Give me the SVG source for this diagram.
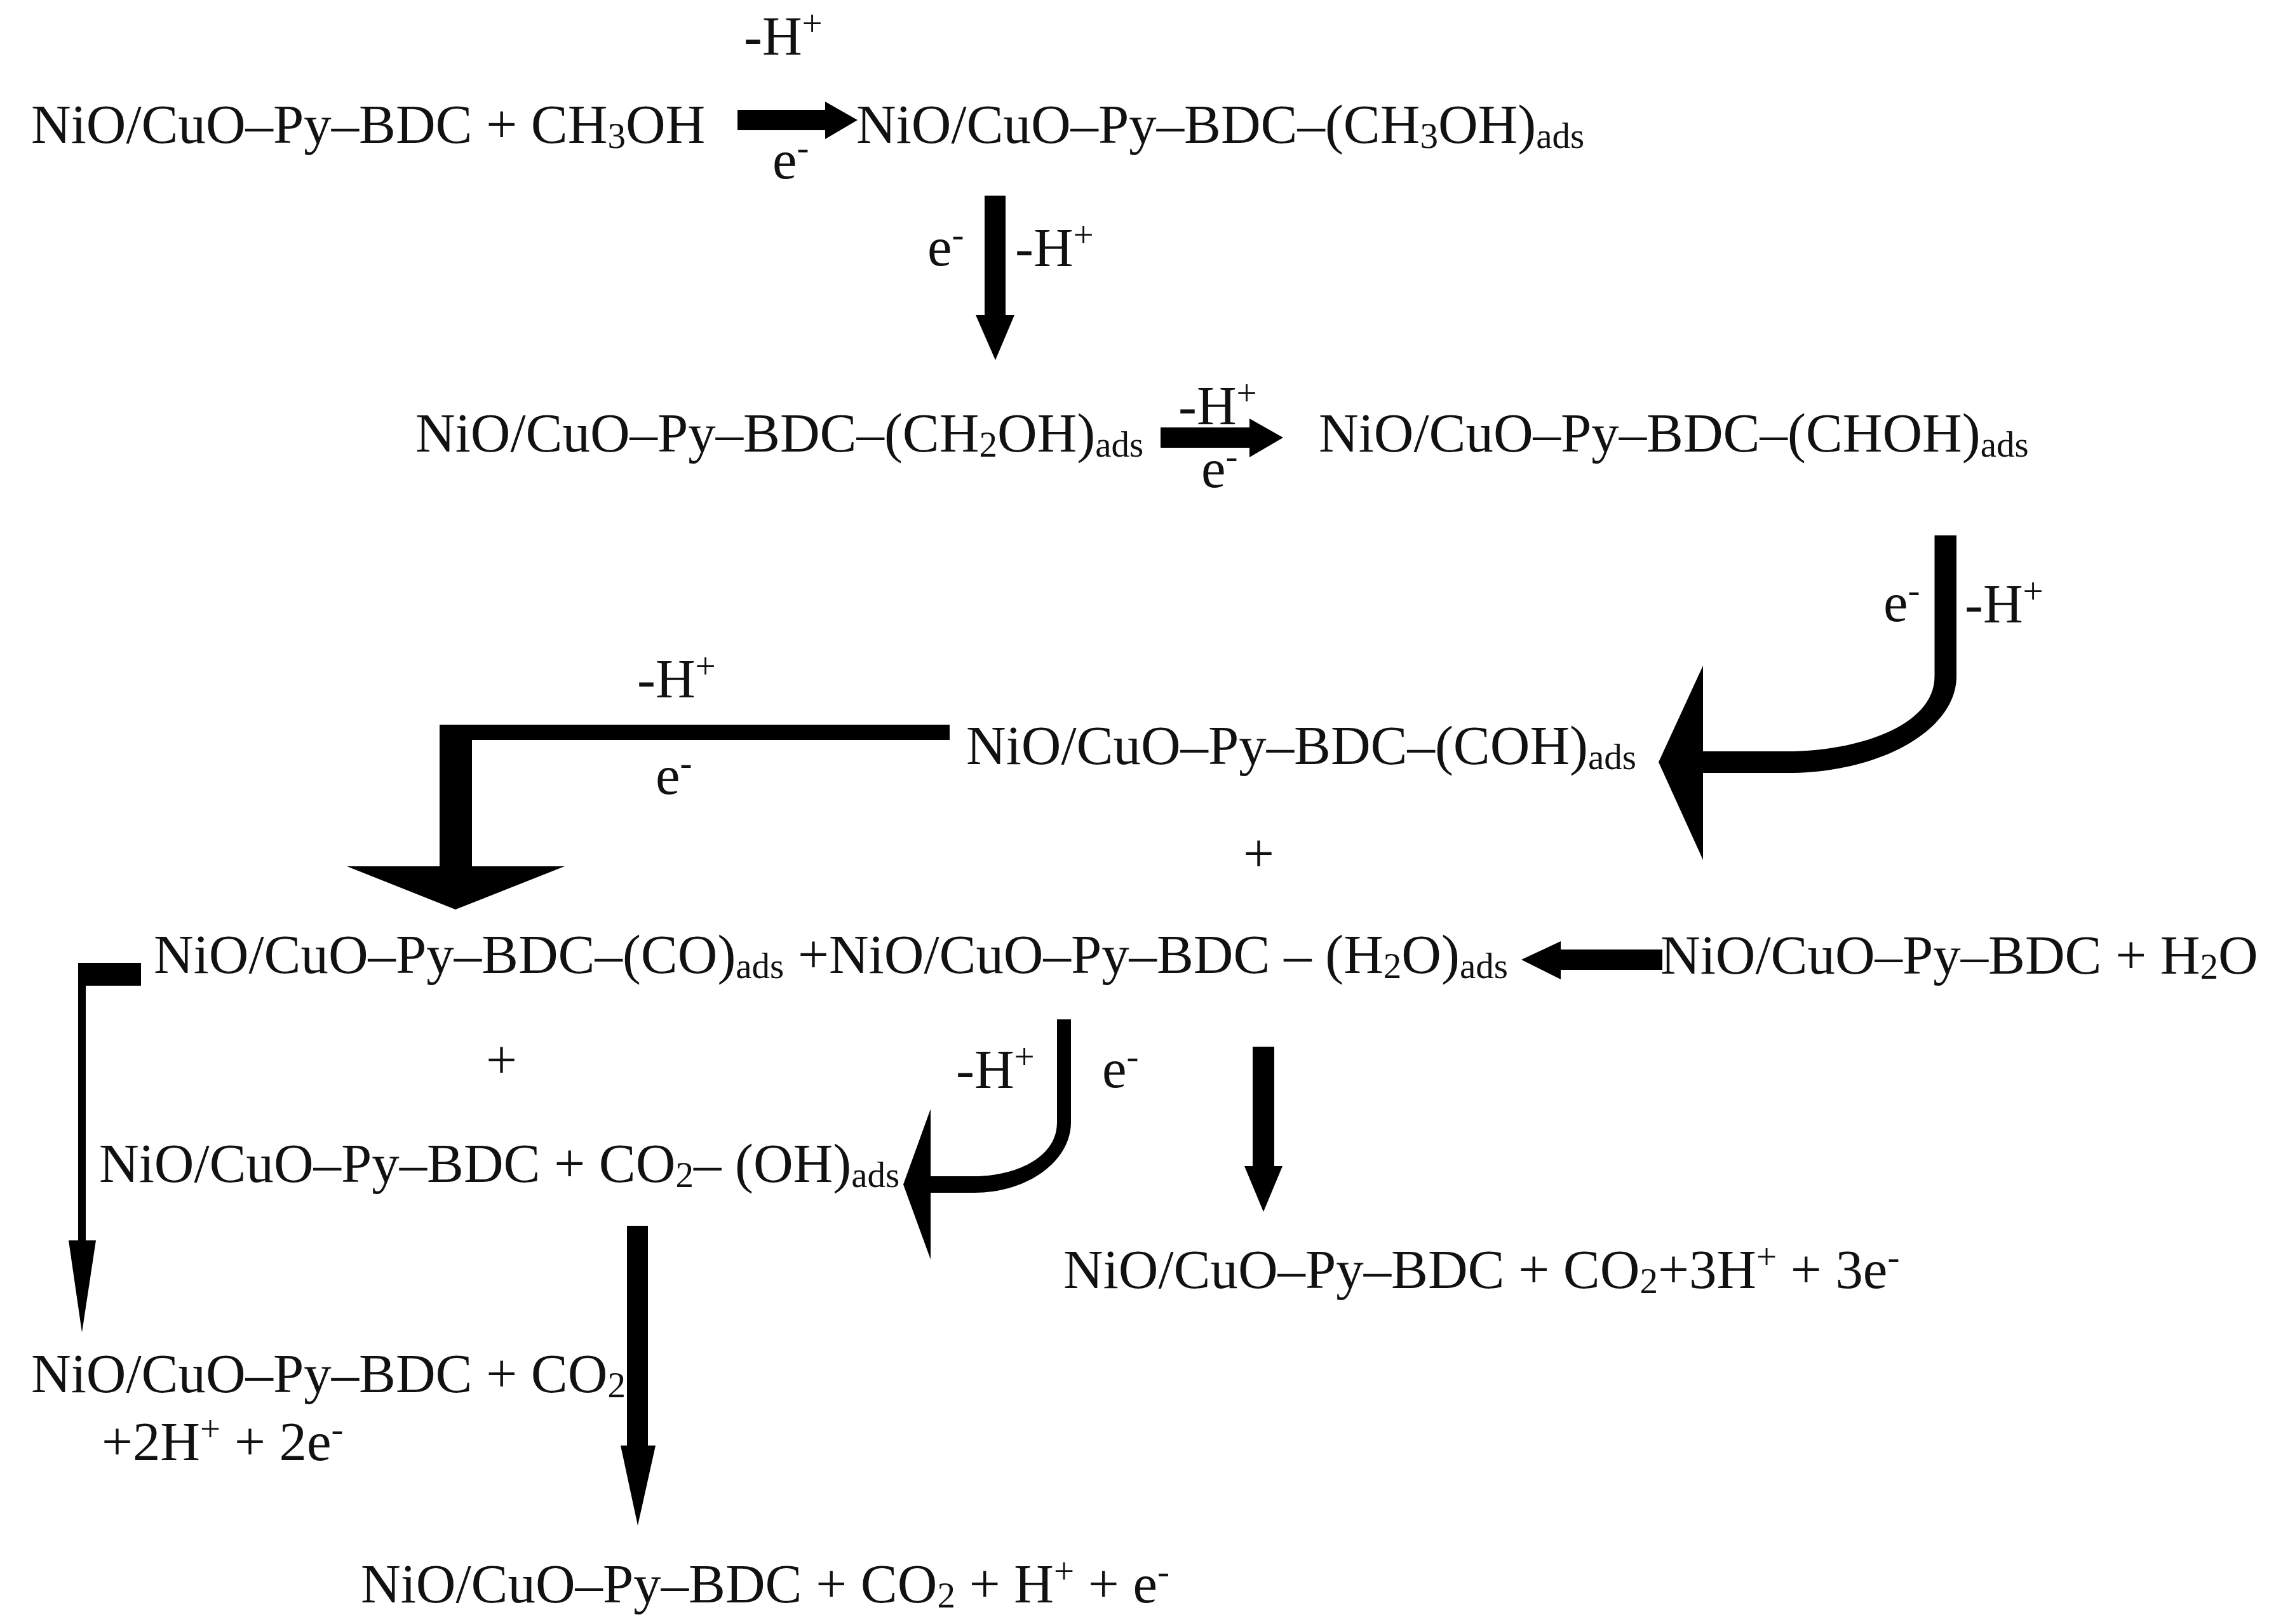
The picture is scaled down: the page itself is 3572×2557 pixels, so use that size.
<svg xmlns="http://www.w3.org/2000/svg" width="3572" height="2557" viewBox="0 0 3572 2557">
<style>
text{font-family:"Liberation Serif","Times New Roman",serif;font-size:86.8px;fill:#111}
.s{font-size:57px}
.a{fill:#000;stroke:none}
</style>
<rect width="3572" height="2557" fill="#fff"/>
<g id="connectors">
<path class="a" d="M1161 173H1299V160L1350 189L1299 219V205H1161Z"/>
<path class="a" d="M1550 308H1583V496H1597L1567 567L1536 496H1550Z"/>
<path class="a" d="M1827 673H1967V659L2020 689L1967 720V705H1827Z"/>
<path class="a" d="M3045.5 843H3080V1065C3080 1149 2961 1217 2814 1217H2681V1354L2611 1200L2681 1048V1183H2814C2920 1183 3045.5 1145 3045.5 1065Z"/>
<path class="a" d="M1495 1141V1165H743V1364H889L717 1432L546 1364H692V1141Z"/>
<path class="a" d="M2617 1495V1527H2457V1542L2395 1511L2457 1482V1495Z"/>
<path class="a" d="M222 1516V1552H135V1953H151L129 2098L108 1953H123V1516Z"/>
<path class="a" d="M1664 1605H1686V1767C1686 1828 1618 1878 1534 1878H1465V1983L1422 1865L1465 1746V1852H1534C1595 1852 1664 1825 1664 1767Z"/>
<path class="a" d="M1972 1648H2006V1836H2019L1989 1908L1959 1836H1972Z"/>
<path class="a" d="M987 1930H1020V2276H1032L1004 2402L977 2276H987Z"/>
</g>
<g id="n1"><text x="49" y="225">NiO/CuO–Py–BDC + CH<tspan class="s" dy="8">3</tspan><tspan dy="-8">OH</tspan></text></g>
<g id="n2"><text x="1348" y="225">NiO/CuO–Py–BDC–(CH<tspan class="s" dy="8">3</tspan><tspan dy="-8">OH)</tspan><tspan class="s" dy="8">ads</tspan></text></g>
<g id="n3"><text x="654" y="711">NiO/CuO–Py–BDC–(CH<tspan class="s" dy="8">2</tspan><tspan dy="-8">OH)</tspan><tspan class="s" dy="8">ads</tspan></text></g>
<g id="n4"><text x="2076" y="711">NiO/CuO–Py–BDC–(CHOH)<tspan class="s" dy="8">ads</tspan></text></g>
<g id="n5"><text x="1521" y="1203">NiO/CuO–Py–BDC–(COH)<tspan class="s" dy="8">ads</tspan></text></g>
<g id="n6"><text x="242" y="1532">NiO/CuO–Py–BDC–(CO)<tspan class="s" dy="8">ads</tspan><tspan dy="-8"> +NiO/CuO–Py–BDC – (H</tspan><tspan class="s" dy="8">2</tspan><tspan dy="-8">O)</tspan><tspan class="s" dy="8">ads</tspan></text></g>
<g id="n7"><text x="2614" y="1533">NiO/CuO–Py–BDC + H<tspan class="s" dy="8">2</tspan><tspan dy="-8">O</tspan></text></g>
<g id="n8"><text x="156" y="1861">NiO/CuO–Py–BDC + CO<tspan class="s" dy="8">2</tspan><tspan dy="-8">– (OH)</tspan><tspan class="s" dy="8">ads</tspan></text></g>
<g id="n9"><text x="1674" y="2028">NiO/CuO–Py–BDC + CO<tspan class="s" dy="8">2</tspan><tspan dy="-8">+3H</tspan><tspan class="s" dy="-30">+</tspan><tspan dy="30"> + 3e</tspan><tspan class="s" dy="-30">-</tspan></text></g>
<g id="n10"><text x="49" y="2192">NiO/CuO–Py–BDC + CO<tspan class="s" dy="8">2</tspan></text><text x="160" y="2299">+2H<tspan class="s" dy="-30">+</tspan><tspan dy="30"> + 2e</tspan><tspan class="s" dy="-30">-</tspan></text></g>
<g id="n11"><text x="568" y="2523">NiO/CuO–Py–BDC + CO<tspan class="s" dy="8">2</tspan><tspan dy="-8"> + H</tspan><tspan class="s" dy="-30">+</tspan><tspan dy="30"> + e</tspan><tspan class="s" dy="-30">-</tspan></text></g>
<g id="labels">
<text x="1171" y="86">-H<tspan class="s" dy="-30">+</tspan></text>
<text x="1216" y="281">e<tspan class="s" dy="-30">-</tspan></text>
<text x="1460" y="418">e<tspan class="s" dy="-30">-</tspan></text>
<text x="1598" y="419">-H<tspan class="s" dy="-30">+</tspan></text>
<text x="1855" y="668">-H<tspan class="s" dy="-30">+</tspan></text>
<text x="1891" y="767">e<tspan class="s" dy="-30">-</tspan></text>
<text x="2965" y="978">e<tspan class="s" dy="-30">-</tspan></text>
<text x="3093" y="980">-H<tspan class="s" dy="-30">+</tspan></text>
<text x="1003" y="1098">-H<tspan class="s" dy="-30">+</tspan></text>
<text x="1032" y="1250">e<tspan class="s" dy="-30">-</tspan></text>
<text x="1957" y="1373">+</text>
<text x="765" y="1698">+</text>
<text x="1505" y="1713">-H<tspan class="s" dy="-30">+</tspan></text>
<text x="1735" y="1712">e<tspan class="s" dy="-30">-</tspan></text>
</g>
</svg>
